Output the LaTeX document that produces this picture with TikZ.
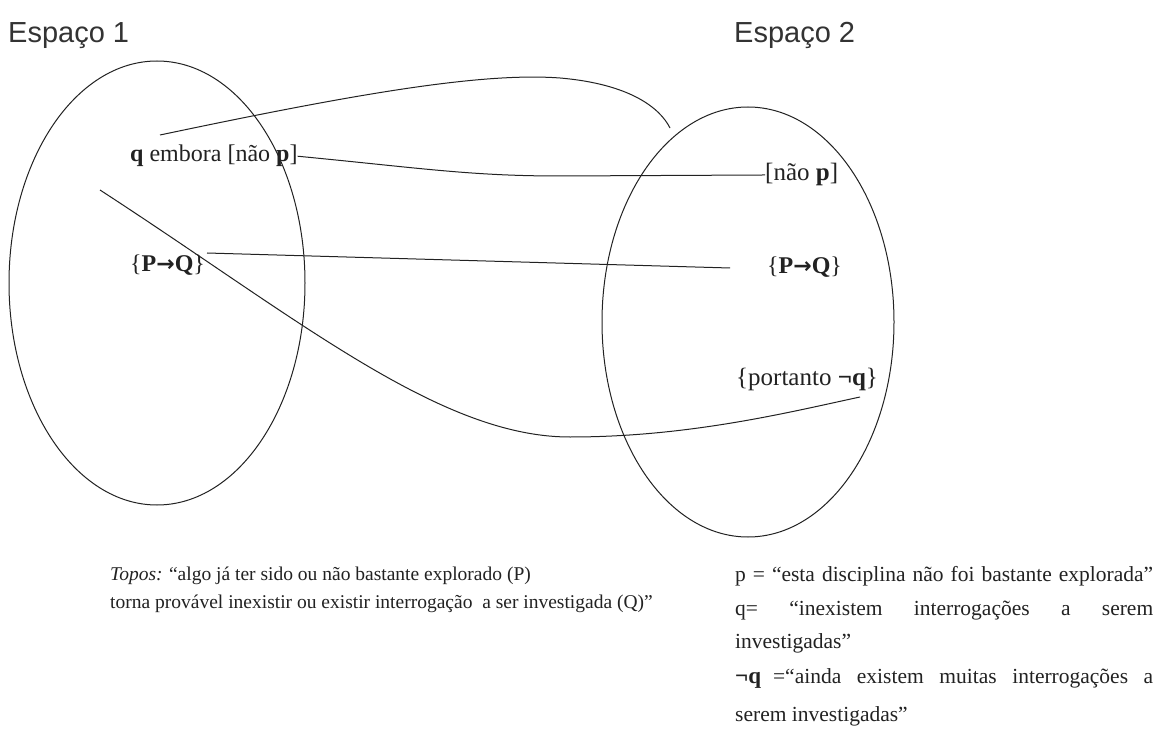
\documentclass[tikz,border=0pt]{standalone}
\usepackage{fontspec}
\setmainfont{Liberation Serif}
\newfontfamily\arialfont{Liberation Sans}
\newfontfamily\arrowfont{DejaVu Sans}
\usetikzlibrary{shapes.geometric}
\newcommand{\imp}{{\arrowfont\bfseries\fontsize{22}{26}\selectfont →}}
\definecolor{ink}{HTML}{222222}
\definecolor{titleink}{HTML}{333333}
\begin{document}
\begin{tikzpicture}[x=1pt,y=-1pt,
  title/.style={font=\arialfont\fontsize{29}{33}\selectfont, text=titleink, anchor=base west, inner sep=0},
  lbl/.style={font=\fontsize{24}{28}\selectfont, text=ink, anchor=base west, inner sep=0},
  biglbl/.style={font=\fontsize{25}{29}\selectfont, text=ink, anchor=base west, inner sep=0},
  note/.style={font=\fontsize{19.5}{22}\selectfont, text=ink, anchor=base west, inner sep=0},
  rnote/.style={font=\fontsize{21.5}{24}\selectfont, text=ink, anchor=base west, inner sep=0},
  space/.style={draw=ink, ellipse, line width=1pt, inner sep=0},
  link/.style={draw=ink, line width=1pt}]
\useasboundingbox (0,0) rectangle (1167,751);
\fill[white] (0,0) rectangle (1167,751);

\node[title] (t1) at (8,43) {Espaço 1};
\node[title] (t2) at (734,43) {Espaço 2};

\node[space, minimum width=296pt, minimum height=444pt] (e1) at (157,283) {};
\node[space, minimum width=292pt, minimum height=430pt] (e2) at (748,322) {};

\node[lbl] (a1) at (130,162) {\textbf{q} embora [não \textbf{p}]};
\node[lbl] (b1) at (130,272) {\{\textbf{P}\imp\textbf{Q}\}};
\node[biglbl] (a2) at (765,181) {[não \textbf{p}]};
\node[lbl] (b2) at (767,274) {\{\textbf{P}\imp\textbf{Q}\}};
\node[biglbl] (c2) at (736,385) {\{portanto \textbf{¬q}\}};

\coordinate (s1) at (160,135);
\coordinate (top) at (560,78);
\coordinate (m1) at (670,128);
\draw[link] (s1) .. controls (350,95) and (480,72) .. (top) .. controls (630,84) and (660,108) .. (m1);

\draw[link] (a1.east) .. controls (420,168) and (470,176) .. (560,176) -- (a2.west);

\coordinate (l3s) at (207,253);
\coordinate (l3e) at (730,268);
\draw[link] (l3s) -- (l3e);

\coordinate (s4) at (100,190);
\coordinate (bot) at (570,437);
\coordinate (e4) at (860,397);
\draw[link] (s4) .. controls (300,320) and (440,437) .. (bot) .. controls (690,437) and (790,412) .. (e4);

\node[note] (n1) at (110,580) {\textit{Topos:} “algo já ter sido ou não bastante explorado (P)};
\node[note] (n2) at (110,608) {torna provável inexistir ou existir interrogação~ a ser investigada (Q)”};

\node[rnote] (r1) at (735,581) {\hbox to 418pt{p = “esta disciplina não foi bastante explorada”}};
\node[rnote] (r2) at (735,615) {\hbox to 418pt{q=\hfill “inexistem\hfill interrogações\hfill a\hfill serem}};
\node[rnote] (r3) at (735,648) {investigadas”};
\node[rnote] (r4) at (735,683) {\hbox to 418pt{{\fontsize{23}{26}\selectfont\textbf{¬q}}\hskip 12pt =“ainda\hfill existem\hfill muitas\hfill interrogações\hfill a}};
\node[rnote] (r5) at (735,721) {serem investigadas”};
\end{tikzpicture}
\end{document}
